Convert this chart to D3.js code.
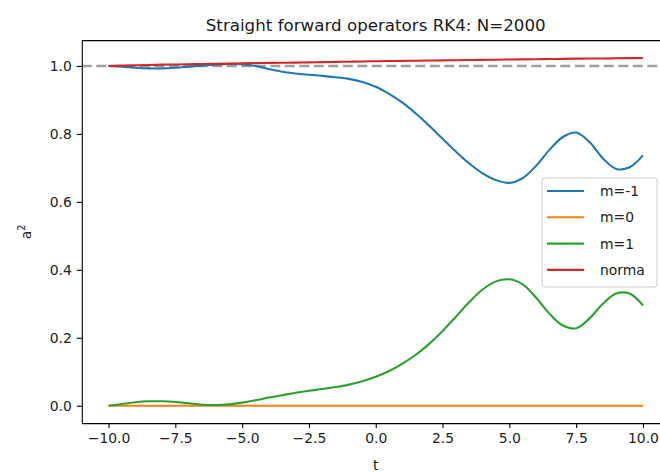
<!DOCTYPE html>
<html>
<head>
<meta charset="utf-8">
<script src="https://cdn.jsdelivr.net/npm/d3@7"></script>
<style>
    body { margin: 0; background: #fff; }
    svg { display: block; font-family: "DejaVu Sans", sans-serif; }
</style>
</head>
<body>
<div id="chart"></div>
<script>
// time grid
const tValues = [-10, -9.5, -9, -8.5, -8, -7.5, -7, -6.5, -6, -5.5, -5, -4.5, -4, -3.5, -3, -2.5, -2, -1.5, -1, -0.5,
    0, 0.5, 1, 1.5, 2, 2.5, 3, 3.5, 4, 4.5, 5, 5.5, 6, 6.5, 7, 7.5, 8, 8.5, 9, 9.5, 10];

const mMinus1 = [1.000, 0.998, 0.995, 0.993, 0.993, 0.995, 0.998, 1.001, 1.004, 1.006, 1.005, 1.000, 0.991, 0.983,
    0.978, 0.974, 0.971, 0.967, 0.962, 0.953, 0.939, 0.918, 0.892, 0.860, 0.824, 0.786, 0.748, 0.713, 0.684, 0.664,
    0.656, 0.670, 0.706, 0.753, 0.791, 0.804, 0.776, 0.728, 0.697, 0.702, 0.737];

const mZero = [0, 0, 0, 0, 0, 0, 0, 0, 0, 0, 0, 0, 0, 0, 0, 0, 0, 0, 0, 0,
    0, 0, 0, 0, 0, 0, 0, 0, 0, 0, 0, 0, 0, 0, 0, 0, 0, 0, 0, 0, 0];

const mPlus1 = [0.000, 0.005, 0.010, 0.013, 0.013, 0.011, 0.007, 0.003, 0.002, 0.004, 0.009, 0.016, 0.024, 0.031,
    0.038, 0.044, 0.049, 0.055, 0.062, 0.072, 0.085, 0.102, 0.124, 0.150, 0.182, 0.220, 0.262, 0.305, 0.342, 0.366,
    0.372, 0.357, 0.318, 0.271, 0.236, 0.228, 0.257, 0.300, 0.330, 0.330, 0.295];

const norma = [1.000, 1.001, 1.002, 1.003, 1.004, 1.0045, 1.005, 1.006, 1.0065, 1.007, 1.008, 1.0085, 1.009, 1.0095,
    1.010, 1.0107, 1.0113, 1.012, 1.0126, 1.0132, 1.014, 1.0145, 1.015, 1.0156, 1.016, 1.0166, 1.017, 1.0175, 1.018,
    1.0185, 1.019, 1.0195, 1.020, 1.0205, 1.021, 1.0215, 1.022, 1.0222, 1.0226, 1.023, 1.0235];

const xTicks = [-10, -7.5, -5, -2.5, 0, 2.5, 5, 7.5, 10];
const yTicks = [0, 0.2, 0.4, 0.6, 0.8, 1.0];
const seriesLabels = ["m=-1", "m=0", "m=1", "norma"];
const seriesColors = ["#1f77b4", "#ff7f0e", "#2ca02c", "#d62728"];
const titleText = "Straight forward operators RK4: N=2000";

const width = 660, height = 472;

const x = d3.scaleLinear().domain([-11, 11]).range([81.8, 669.7]);
const y = d3.scaleLinear().domain([-0.0512, 1.0747]).range([423.1, 40.6]);

const svg = d3.select("#chart").append("svg")
    .attr("width", width)
    .attr("height", height);

//Reference line at 1
svg.append("line")
    .attr("x1", x.range()[0]).attr("x2", x.range()[1])
    .attr("y1", y(1)).attr("y2", y(1))
    .attr("stroke", "#a0a0a0")
    .attr("stroke-width", 2.4)
    .attr("stroke-dasharray", "10,4.5");

//Series lines
const line = d3.line()
    .x(function(d){ return x(d[0]); })
    .y(function(d){ return y(d[1]); })
    .curve(d3.curveCatmullRom.alpha(0.5));

const series = [mMinus1, mZero, mPlus1, norma];
series.forEach(function(vals, i){
    svg.append("path")
        .datum(tValues.map(function(t, j){ return [t, vals[j]]; }))
        .attr("fill", "none")
        .attr("stroke", seriesColors[i])
        .attr("stroke-width", 2.1)
        .attr("stroke-linejoin", "round")
        .attr("d", line);
});

//Axes
const fmt = d3.format(".1f");
const xAxis = svg.append("g")
    .attr("transform", "translate(0," + y.range()[0] + ")")
    .call(d3.axisBottom(x).tickValues(xTicks).tickFormat(fmt).tickSize(5).tickSizeOuter(0).tickPadding(5));
const yAxis = svg.append("g")
    .attr("transform", "translate(" + x.range()[0] + ",0)")
    .call(d3.axisLeft(y).tickValues(yTicks).tickFormat(fmt).tickSize(5).tickSizeOuter(0).tickPadding(5));

[xAxis, yAxis].forEach(function(ax){
    ax.select(".domain").attr("stroke", "#000").attr("stroke-width", 1.1);
    ax.selectAll(".tick line").attr("stroke", "#000").attr("stroke-width", 1.1);
    ax.selectAll(".tick text")
        .attr("fill", "#222")
        .style("font-size", "13.9px")
        .style("font-family", "DejaVu Sans, sans-serif");
});

//Top spine
svg.append("line")
    .attr("x1", x.range()[0]).attr("x2", x.range()[1])
    .attr("y1", y.range()[1]).attr("y2", y.range()[1])
    .attr("stroke", "#000")
    .attr("stroke-width", 1.1);

//Title and labels
svg.append("text")
    .text(titleText)
    .attr("x", (x.range()[0] + x.range()[1]) / 2)
    .attr("y", 31)
    .attr("text-anchor", "middle")
    .attr("fill", "#1a1a1a")
    .style("font-size", "16.7px");

svg.append("text")
    .text("t")
    .attr("x", (x.range()[0] + x.range()[1]) / 2)
    .attr("y", 470)
    .attr("text-anchor", "middle")
    .attr("fill", "#222")
    .style("font-size", "13.9px");

const yLabel = svg.append("text")
    .attr("transform", "translate(31," + ((y.range()[0] + y.range()[1]) / 2) + ") rotate(-90)")
    .attr("text-anchor", "middle")
    .attr("fill", "#222")
    .style("font-size", "13.9px");
yLabel.append("tspan").text("a");
yLabel.append("tspan").text("2").attr("dy", -6).style("font-size", "9.7px");

//Legend
const legend = svg.append("g").attr("transform", "translate(542,178)");
legend.append("rect")
    .attr("width", 115)
    .attr("height", 109)
    .attr("rx", 3)
    .attr("fill", "#fff")
    .attr("fill-opacity", 0.8)
    .attr("stroke", "#ccc")
    .attr("stroke-width", 1);

seriesLabels.forEach(function(label, i){
    const ly = 13 + i * 26.3;
    legend.append("line")
        .attr("x1", 5).attr("x2", 42)
        .attr("y1", ly).attr("y2", ly)
        .attr("stroke", seriesColors[i])
        .attr("stroke-width", 2.1);
    legend.append("text")
        .text(label)
        .attr("x", 58)
        .attr("y", ly + 5)
        .attr("fill", "#222")
        .style("font-size", "13.9px");
});
</script>
</body>
</html>
